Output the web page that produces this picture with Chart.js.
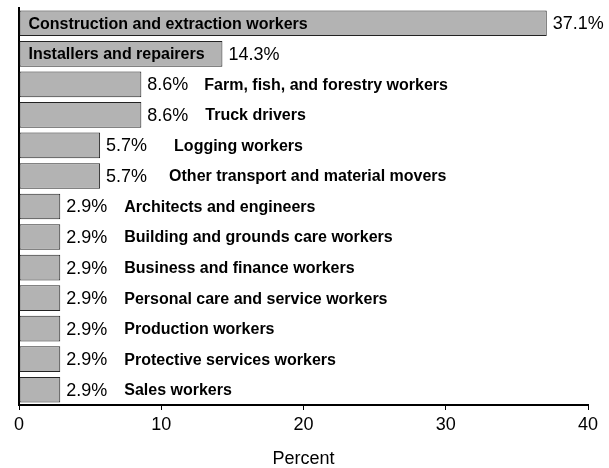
<!DOCTYPE html>
<html lang="en">
<head>
    <meta charset="UTF-8">
    <title>Occupations by percent</title>
    <script src="https://cdn.jsdelivr.net/npm/chart.js"></script>
    <style>
        body { margin: 0; background: #fff; }
        canvas { display: block; }
    </style>
</head>
<body>
    <canvas id="occChart" width="609" height="468"></canvas>

    <script>
        const categories = [
            "Construction and extraction workers",
            "Installers and repairers",
            "Farm, fish, and forestry workers",
            "Truck drivers",
            "Logging workers",
            "Other transport and material movers",
            "Architects and engineers",
            "Building and grounds care workers",
            "Business and finance workers",
            "Personal care and service workers",
            "Production workers",
            "Protective services workers",
            "Sales workers"
        ];
        const percents = [37.1, 14.3, 8.6, 8.6, 5.7, 5.7, 2.9, 2.9, 2.9, 2.9, 2.9, 2.9, 2.9];
        const xTicks = [0, 10, 20, 30, 40];

        // space (px) between end of bar and the bold name, for names outside bars
        const nameGap = [0, 0, 63, 64, 74, 69, 64, 64, 64, 64, 64, 64, 64];

        const FONT = "'Liberation Sans', Arial, sans-serif";

        const barLabels = {
            id: "barLabels",
            afterDatasetsDraw(chart) {
                const ctx = chart.ctx;
                const meta = chart.getDatasetMeta(0);
                ctx.save();
                ctx.fillStyle = "#000";
                ctx.textBaseline = "middle";
                ctx.textAlign = "left";
                meta.data.forEach((bar, i) => {
                    const end = bar.x;
                    const y = bar.y + 1;
                    ctx.font = "18px " + FONT;
                    ctx.fillText(percents[i].toFixed(1) + "%", end + 6, y);
                    ctx.font = "bold 16px " + FONT;
                    if (percents[i] > 10) {
                        ctx.fillText(categories[i], bar.base + 9, y);
                    } else {
                        ctx.fillText(categories[i], end + nameGap[i], y);
                    }
                });
                ctx.restore();
            }
        };

        new Chart(document.getElementById("occChart"), {
            type: "bar",
            data: {
                labels: categories,
                datasets: [{
                    data: percents,
                    backgroundColor: "#b3b3b3",
                    borderColor: "#222",
                    borderWidth: 1,
                    borderSkipped: false,
                    barPercentage: 0.84,
                    categoryPercentage: 1
                }]
            },
            options: {
                indexAxis: "y",
                responsive: false,
                animation: false,
                layout: { padding: { left: 19, right: 21, top: 8, bottom: 0 } },
                plugins: {
                    legend: { display: false },
                    tooltip: { enabled: false }
                },
                scales: {
                    y: {
                        ticks: { display: false },
                        grid: { display: false },
                        border: { display: true, color: "#000", width: 2 },
                        afterFit: s => { s.width = 0; }
                    },
                    x: {
                        min: 0,
                        max: 40,
                        afterBuildTicks: s => { s.ticks = xTicks.map(v => ({ value: v })); },
                        ticks: {
                            color: "#000",
                            font: { family: FONT, size: 18 },
                            padding: 4,
                            maxRotation: 0
                        },
                        grid: {
                            display: true,
                            drawOnChartArea: false,
                            drawTicks: true,
                            tickLength: 5,
                            color: "#000",
                            lineWidth: 1
                        },
                        border: { display: true, color: "#000", width: 2 },
                        title: {
                            display: true,
                            text: "Percent",
                            color: "#000",
                            font: { family: FONT, size: 18 },
                            padding: { top: 0, bottom: -2 }
                        },
                        afterFit: s => { s.height = 63; }
                    }
                }
            },
            plugins: [barLabels]
        });
    </script>
</body>
</html>
